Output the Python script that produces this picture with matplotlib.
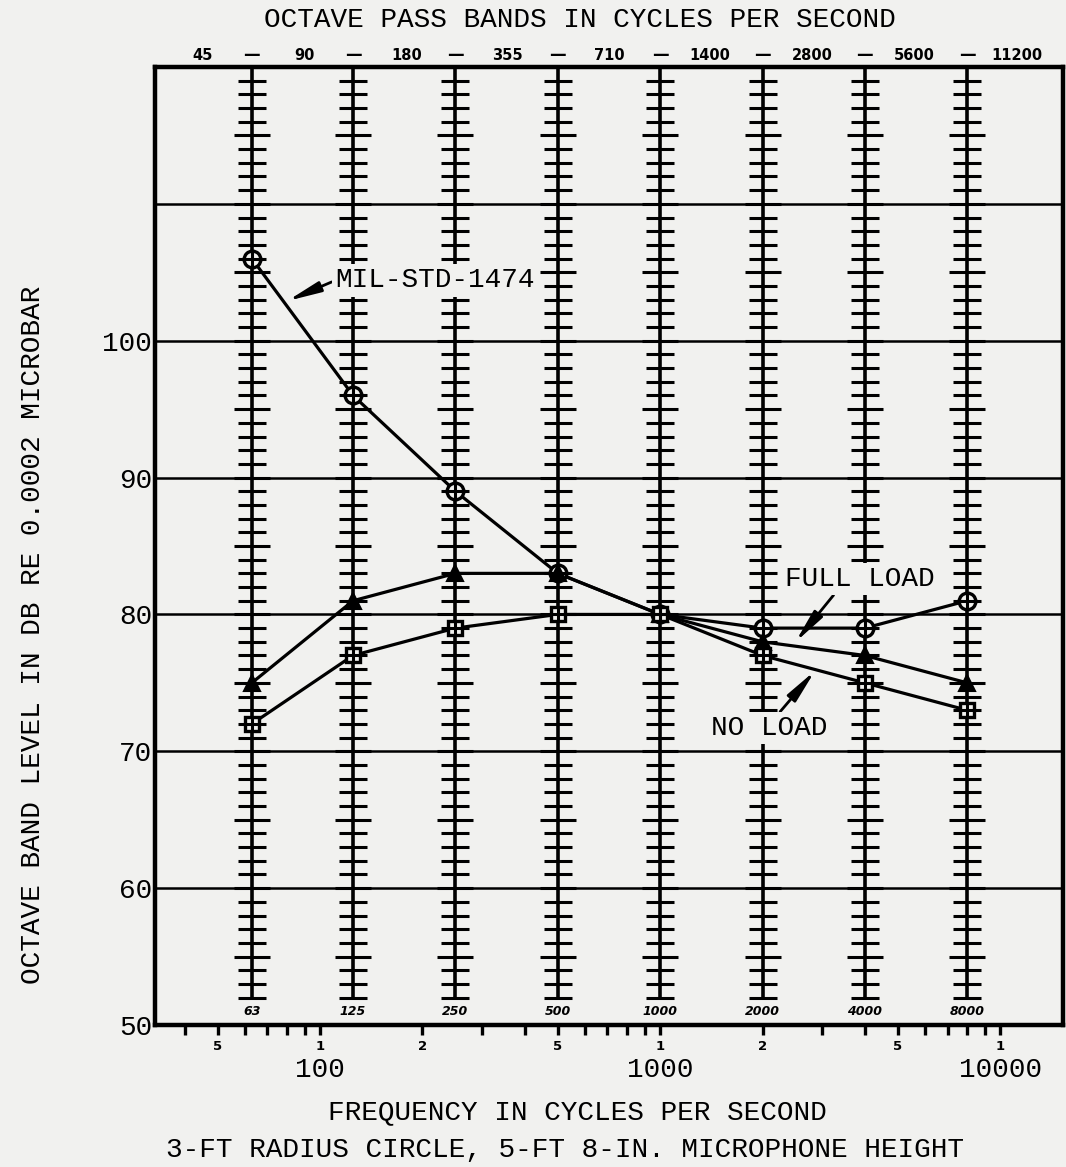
import numpy as np
import matplotlib
matplotlib.use('Agg')
import matplotlib.pyplot as plt
from matplotlib.ticker import FixedLocator, FixedFormatter, LogLocator, NullFormatter

# ---------------- data ----------------
freqs = [63, 125, 250, 500, 1000, 2000, 4000, 8000]
mil_std = [106, 96, 89, 83, 80, 79, 79, 81]
full_load = [75, 81, 83, 83, 80, 78, 77, 75]
no_load = [72, 77, 79, 80, 80, 77, 75, 73]

band_edges = [45, 90, 180, 355, 710, 1400, 2800, 5600, 11200]
band_edge_labels = ['45', '90', '180', '355', '710', '1400', '2800', '5600', '11200']
center_labels = ['63', '125', '250', '500', '1000', '2000', '4000', '8000']

y_ticks = [50, 60, 70, 80, 90, 100, 110]
y_ticklabels = ['50', '60', '70', '80', '90', '100', '']

decade_ticks = [100, 1000, 10000]
decade_labels = ['100', '1000', '10000']
mantissa_ticks = [50, 100, 200, 500, 1000, 2000, 5000, 10000]
mantissa_labels = ['5', '1', '2', '5', '1', '2', '5', '1']

# ---------------- style ----------------
FONT = 'Liberation Mono'
BOLD = 'DejaVu Sans'
BG = '#f1f1ef'
plt.rcParams['font.family'] = [FONT, 'DejaVu Sans']

fig = plt.figure(figsize=(10.66, 11.67), dpi=100, facecolor=BG)
ax = fig.add_axes([155/1066, 1-1025/1167, (1063-155)/1066, (1025-67)/1167])
ax.set_facecolor(BG)
ax.set_xscale('log')
ax.set_xlim(32.7, 15300)
ax.set_ylim(50, 120)

for s in ax.spines.values():
    s.set_linewidth(3.2)
    s.set_color('black')

# y axis: gridlines + labels
ax.set_yticks(y_ticks)
ax.set_yticklabels(y_ticklabels)
ax.tick_params(axis='y', length=0, labelsize=20, pad=2)
ax.grid(axis='y', color='black', lw=1.8, zorder=1)
ax.set_axisbelow(True)

# x axis ticks
ax.xaxis.set_major_locator(FixedLocator(mantissa_ticks))
ax.xaxis.set_major_formatter(FixedFormatter(mantissa_labels))
ax.xaxis.set_minor_locator(LogLocator(base=10, subs=np.arange(2, 10)))
ax.xaxis.set_minor_formatter(NullFormatter())
ax.tick_params(axis='x', which='both', direction='out', length=7, width=2.4, pad=4)
for lab in ax.get_xticklabels():
    lab.set_fontfamily(BOLD)
    lab.set_fontweight('heavy')
    lab.set_fontsize(9.5)

xt = ax.get_xaxis_transform()
for f, lab in zip(decade_ticks, decade_labels):
    ax.text(f, -0.047, lab, transform=xt, ha='center', va='center', fontsize=20)

# octave band lines with dB scale ticks
levels = np.arange(52, 120)
short = [v for v in levels if v % 5 != 0]
long_ = [v for v in levels if v % 5 == 0]
ax.vlines(freqs, 51.8, 120, color='black', lw=2.6, zorder=2)
for f in freqs:
    ax.plot([f]*len(short), short, ls='none', marker='_', ms=19.5, mew=2.2, color='black', zorder=2)
    ax.plot([f]*len(long_), long_, ls='none', marker='_', ms=26.5, mew=2.2, color='black', zorder=2)

for f, lab in zip(freqs, center_labels):
    ax.text(f, 50.95, lab, ha='center', va='center', fontsize=9, fontfamily=BOLD,
            fontweight='heavy', fontstyle='italic', zorder=3)

# top pass band labels
for f, lab in zip(band_edges, band_edge_labels):
    ax.text(f, 1.0125, lab, transform=xt, ha='center', va='center', fontsize=10.5,
            fontfamily=BOLD, fontweight='heavy', clip_on=False)
for f in freqs:
    ax.text(f, 1.0125, '\u2014', transform=xt, ha='center', va='center', fontsize=12,
            fontfamily=BOLD, fontweight='heavy', clip_on=False)

# data series
ax.plot(freqs, mil_std, color='black', lw=2.3, zorder=4)
ax.plot(freqs, full_load, color='black', lw=2.3, zorder=4)
ax.plot(freqs, no_load, color='black', lw=2.3, zorder=4)

ax.plot(freqs, mil_std, ls='none', marker='o', ms=12, mfc=BG, mec='black', mew=2.4, zorder=5)
ax.plot(freqs, mil_std, ls='none', marker='+', ms=12, mec='black', mew=2.2, zorder=6)
ax.plot(freqs, full_load, ls='none', marker='^', ms=11, mfc='black', mec='black', mew=1.5, zorder=5)
ax.plot(freqs, no_load, ls='none', marker='s', ms=10.5, mfc=BG, mec='black', mew=2.4, zorder=5)
ax.plot(freqs, no_load, ls='none', marker='+', ms=10.5, mec='black', mew=2.2, zorder=6)

# annotations
arrow = '-|>,head_length=1.0,head_width=0.16'
bbox = dict(boxstyle='square,pad=0.12', fc=BG, ec='none')
ax.annotate('MIL-STD-1474', xy=(80, 102.9), xytext=(110.7, 104.4), ha='left', va='center',
            fontsize=20, bbox=bbox, zorder=7,
            arrowprops=dict(arrowstyle=arrow, color='black', lw=2, relpos=(0, 0.5),
                            shrinkA=0, shrinkB=0))
ax.annotate('FULL LOAD', xy=(2495, 77.96), xytext=(3875, 82.6), ha='center', va='center',
            fontsize=20, bbox=bbox, zorder=7,
            arrowprops=dict(arrowstyle=arrow, color='black', lw=2, relpos=(0.34, 0),
                            shrinkA=0, shrinkB=0))
ax.annotate('NO LOAD', xy=(2858, 75.9), xytext=(2092, 71.7), ha='center', va='center',
            fontsize=20, bbox=bbox, zorder=7,
            arrowprops=dict(arrowstyle=arrow, color='black', lw=2, relpos=(0.57, 1),
                            shrinkA=0, shrinkB=0))

# titles / labels
fig.text(580/1066, 1-20/1167, 'OCTAVE PASS BANDS IN CYCLES PER SECOND', ha='center', va='center', fontsize=20)
fig.text(577/1066, 1-1112/1167, 'FREQUENCY IN CYCLES PER SECOND', ha='center', va='center', fontsize=20)
fig.text(565/1066, 1-1150/1167, '3-FT RADIUS CIRCLE, 5-FT 8-IN. MICROPHONE HEIGHT', ha='center', va='center', fontsize=20)
fig.text(33/1066, 1-635/1167, 'OCTAVE BAND LEVEL IN DB RE 0.0002 MICROBAR', ha='center', va='center',
         fontsize=20, rotation=90)

fig.savefig('out.png', dpi=100, facecolor=BG)
